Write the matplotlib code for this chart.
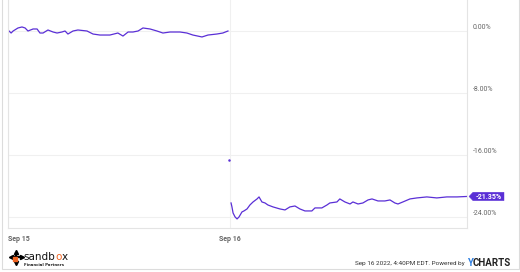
import matplotlib.pyplot as plt
from matplotlib.patches import Rectangle, Polygon

# x is in trading days from the Sep 15 open, y is percent change
sep15_x = [0.000, 0.014, 0.023, 0.045, 0.063, 0.077, 0.090, 0.113, 0.131, 0.144,
           0.158, 0.180, 0.203, 0.221, 0.243, 0.257, 0.270, 0.293, 0.315, 0.356,
           0.383, 0.414, 0.459, 0.495, 0.518, 0.541, 0.563, 0.586, 0.608, 0.640,
           0.671, 0.698, 0.730, 0.775, 0.806, 0.833, 0.874, 0.901, 0.941, 0.968, 0.991]
sep15_y = [0.13, -0.26, 0.00, 0.39, 0.52, 0.39, 0.00, 0.26, 0.26, -0.26,
           -0.26, 0.13, -0.13, -0.26, -0.13, 0.00, -0.39, 0.00, 0.13, 0.00,
           -0.39, -0.52, -0.52, -0.26, -0.65, -0.13, -0.13, 0.00, 0.39, 0.26,
           0.00, -0.26, -0.13, -0.13, -0.26, -0.52, -0.77, -0.52, -0.39, -0.26, 0.00]

gap_x = [0.997]
gap_y = [-16.65]

sep16_x = [1.005, 1.009, 1.014, 1.023, 1.032, 1.041, 1.054, 1.063, 1.077, 1.090,
           1.104, 1.122, 1.131, 1.144, 1.158, 1.171, 1.194, 1.225, 1.248, 1.270,
           1.293, 1.315, 1.338, 1.369, 1.383, 1.414, 1.437, 1.450, 1.482, 1.495,
           1.518, 1.541, 1.554, 1.577, 1.599, 1.622, 1.640, 1.667, 1.698, 1.721,
           1.743, 1.757, 1.779, 1.811, 1.842, 1.887, 1.932, 1.977, 2.023, 2.068]
sep16_y = [-22.19, -22.70, -23.48, -23.99, -24.25, -23.99, -23.35, -23.22, -22.96, -22.45,
           -22.06, -21.67, -21.41, -22.06, -22.19, -22.45, -22.70, -22.96, -23.09, -22.70,
           -22.58, -22.96, -23.22, -23.22, -22.83, -22.83, -22.45, -22.19, -22.06, -21.67,
           -22.06, -22.32, -22.06, -22.32, -22.19, -21.80, -21.67, -21.93, -21.93, -21.80,
           -22.19, -22.32, -22.06, -21.67, -21.54, -21.41, -21.54, -21.41, -21.41, -21.35]

y_ticks = [0, -8, -16, -24]
y_labels = ["0.00%", "-8.00%", "-16.00%", "-24.00%"]
x_ticks = [0, 1]
x_labels = ["Sep 15", "Sep 16"]

purple = "#5a2fd6"
grid_c = "#f0f0f0"
edge_c = "#e4e4e4"

fig = plt.figure(figsize=(5.2, 2.72), dpi=100)
ax = fig.add_axes([8 / 520, 44 / 272, 459 / 520, 228 / 272])

ax.plot(sep15_x, sep15_y, color=purple, lw=0.9)
ax.plot(sep16_x, sep16_y, color=purple, lw=0.9, clip_on=False)
ax.plot(gap_x, gap_y, "o", color=purple, ms=0.8)

ax.set_xlim(0, 2.068)
ax.set_ylim(-25.42, 4.0)

ax.set_yticks(y_ticks, y_labels)
ax.set_xticks(x_ticks, x_labels)
ax.yaxis.tick_right()
ax.tick_params(axis="y", length=0, pad=4, labelsize=5, labelcolor="#666666")
ax.tick_params(axis="x", length=0, pad=5, labelsize=5, labelcolor="#666666")
for lbl in ax.get_yticklabels():
    lbl.set_va("bottom")
    lbl.set_family("Roboto")
for i, lbl in enumerate(ax.get_xticklabels()):
    lbl.set_family("Roboto")
    lbl.set_fontweight("bold")
    if i == 0:
        lbl.set_ha("left")
ax.grid(True, color=grid_c, lw=0.8)
ax.set_axisbelow(True)

ax.spines["top"].set_visible(False)
for s in ["left", "right", "bottom"]:
    ax.spines[s].set_color(edge_c)
    ax.spines[s].set_linewidth(0.8)

# overlay in pixel space for the tag and the footer
ov = fig.add_axes([0, 0, 1, 1], facecolor="none")
ov.set_xlim(0, 520)
ov.set_ylim(272, 0)
ov.axis("off")
ov.add_patch(Rectangle((1.5, -2), 517, 271, fill=False, ec="#dcdcdc", lw=0.8))

# last value tag
px, py = ax.transData.transform((sep16_x[-1], sep16_y[-1]))
tx = px + 2
ty = 272 - py
ov.add_patch(Polygon([(tx, ty), (tx + 4, ty - 4.2), (tx + 35, ty - 4.2),
                      (tx + 35, ty + 4.2), (tx + 4, ty + 4.2)],
                     closed=True, fc=purple, ec=purple, lw=0.3))
ov.text(tx + 19.5, ty + 0.3, "%.2f%%" % sep16_y[-1], fontsize=5, color="white",
        family="Roboto", fontweight="bold", ha="center", va="center")

# sandbox logo
ov.plot([11, 21], [257, 257], color="black", lw=1.6, solid_capstyle="butt")
ov.plot([16, 16], [252, 262], color="black", lw=1.6, solid_capstyle="butt")
ov.plot([10.5], [257], marker="<", color="black", ms=3)
ov.plot([21.5], [257], marker=">", color="black", ms=3)
ov.plot([16], [251.5], marker="^", color="black", ms=3)
ov.plot([16], [262.5], marker="v", color="black", ms=3)
ov.plot([14.5], [258.5], marker="s", color="#f26522", ms=2.2)

renderer = fig.canvas.get_renderer()
x0 = 23
for part, col in [("sandb", "#111111"), ("o", "#f26522"), ("x", "#111111")]:
    t = ov.text(x0, 256.5, part, fontsize=7.5, color=col, va="center", ha="left",
                family="DejaVu Sans")
    x0 = t.get_window_extent(renderer).x1 + 0.2
ov.text(24, 265, "Financial Partners", fontsize=2.8, color="#222222", va="center",
        ha="left", fontweight="bold")

ov.text(465, 263, "Sep 16 2022, 4:40PM EDT. Powered by", fontsize=4.6, color="#333333",
        va="center", ha="right", family="Roboto")
ov.text(467, 262.5, "Y", fontsize=7, color="#2b7de0", va="center", ha="left",
        fontweight="bold", family="Roboto")
ov.text(473, 262.5, "CHARTS", fontsize=7, color="#222222", va="center", ha="left",
        fontweight="bold", family="Roboto")

fig.savefig("out.png", dpi=100)
